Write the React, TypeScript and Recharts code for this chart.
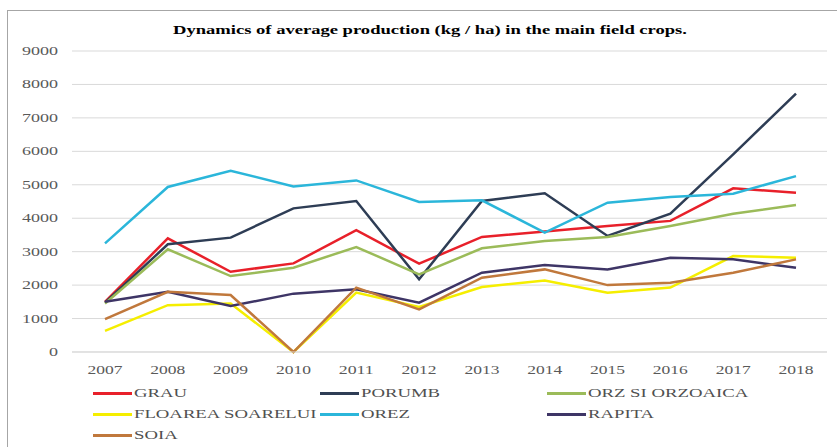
import React from "react";
import { LineChart, Line, XAxis, YAxis, CartesianGrid, Legend } from "recharts";

const years = ["2007", "2008", "2009", "2010", "2011", "2012", "2013", "2014", "2015", "2016", "2017", "2018"];
const grau = [1500, 3400, 2400, 2650, 3640, 2640, 3440, 3600, 3770, 3920, 4895, 4765];
const porumb = [1475, 3220, 3420, 4295, 4515, 2175, 4515, 4745, 3470, 4135, 5910, 7725];
const orz = [1450, 3070, 2270, 2520, 3140, 2320, 3100, 3320, 3440, 3770, 4135, 4395];
const floarea = [630, 1400, 1450, 0, 1775, 1345, 1945, 2140, 1775, 1925, 2870, 2820];
const orez = [3250, 4935, 5420, 4950, 5130, 4485, 4535, 3570, 4465, 4635, 4735, 5260];
const rapita = [1500, 1800, 1375, 1745, 1875, 1475, 2370, 2600, 2470, 2820, 2770, 2520];
const soia = [980, 1800, 1705, 0, 1925, 1275, 2220, 2470, 2000, 2070, 2370, 2770];
const yTicks = [0, 1000, 2000, 3000, 4000, 5000, 6000, 7000, 8000, 9000];
const titleText = "Dynamics of average production (kg / ha) in the main field crops.";

const seriesNames = ["GRAU", "PORUMB", "ORZ SI ORZOAICA", "FLOAREA SOARELUI", "OREZ", "RAPITA", "SOIA"];
const seriesValues = [grau, porumb, orz, floarea, orez, rapita, soia];
const seriesColors = ["#E8202A", "#2E3D55", "#9BBB59", "#F5EE00", "#2BB6DA", "#3E3566", "#C0783C"];

const data = years.map((y, i) => {
  const row: Record<string, string | number> = { year: y };
  seriesNames.forEach((n, s) => {
    row[n] = seriesValues[s][i];
  });
  return row;
});

const FONT = "'Liberation Serif', 'Times New Roman', serif";

const YTick = (props: any) => {
  const { x, y, payload } = props;
  const s = String(payload.value);
  return (
    <text x={x} y={y} dy={4} textAnchor="end" fontSize={12} fontFamily={FONT} fill="#595959"
      textLength={s.length * 9} lengthAdjust="spacingAndGlyphs">
      {s}
    </text>
  );
};

const XTick = (props: any) => {
  const { x, y, payload } = props;
  const s = String(payload.value);
  return (
    <text x={x} y={y + 20} textAnchor="middle" fontSize={12} fontFamily={FONT} fill="#595959"
      textLength={35} lengthAdjust="spacingAndGlyphs">
      {s}
    </text>
  );
};

const renderLegend = () => {
  return (
    <div style={{ position: "relative", width: 837, height: 64 }}>
      {seriesNames.map((n: string, i: number) => {
        const col = i % 3;
        const row = Math.floor(i / 3);
        return (
          <div key={n} style={{ position: "absolute", left: 93 + col * 227, top: row * 21, height: 20, display: "flex", alignItems: "center" }}>
            <div style={{ width: 39, height: 3, background: seriesColors[i] }} />
            <span style={{ fontFamily: FONT, fontSize: 13, color: "#505050", display: "inline-block", transform: "scaleX(1.44)", transformOrigin: "left center", marginLeft: 2, whiteSpace: "nowrap" }}>
              {n}
            </span>
          </div>
        );
      })}
    </div>
  );
};

export default function App() {
  return (
    <div style={{ position: "fixed", left: 0, top: 0, width: 837, height: 447, overflow: "hidden", background: "#fff" }}>
      <div style={{ position: "absolute", left: 7, top: 10, width: 900, height: 600, border: "1px solid #A6A6A6", boxSizing: "border-box" }} />
      <div style={{ position: "absolute", left: 0, top: 0 }}>
        <LineChart width={837} height={447} data={data} margin={{ top: 51, right: 10, bottom: 65, left: 12 }}>
          <CartesianGrid vertical={false} stroke="#D9D9D9" strokeWidth={1} />
          <XAxis dataKey="year" tick={<XTick />} tickLine={false} tickSize={0} axisLine={{ stroke: "#D9D9D9" }}
            padding={{ left: 33, right: 31 }} height={30} interval={0} />
          <YAxis domain={[0, 9000]} ticks={yTicks} tick={<YTick />} tickLine={false} axisLine={false}
            tickSize={0} tickMargin={14} width={60} interval={0} />
          <Legend verticalAlign="middle" align="center" layout="horizontal" content={renderLegend}
            wrapperStyle={{ top: 383, left: 0, width: 837, height: 64 }} />
          {seriesNames.map((n, s) => (
            <Line key={n} type="linear" dataKey={n} name={n} stroke={seriesColors[s]} strokeWidth={2.5}
              dot={false} activeDot={false} isAnimationActive={false} />
          ))}
        </LineChart>
      </div>
      <svg width={837} height={50} style={{ position: "absolute", left: 0, top: 0 }}>
        <text x={430} y={34} textAnchor="middle" fontSize={13} fontWeight="bold" fontFamily={FONT} fill="#000"
          textLength={514} lengthAdjust="spacingAndGlyphs">
          {titleText}
        </text>
      </svg>
    </div>
  );
}
